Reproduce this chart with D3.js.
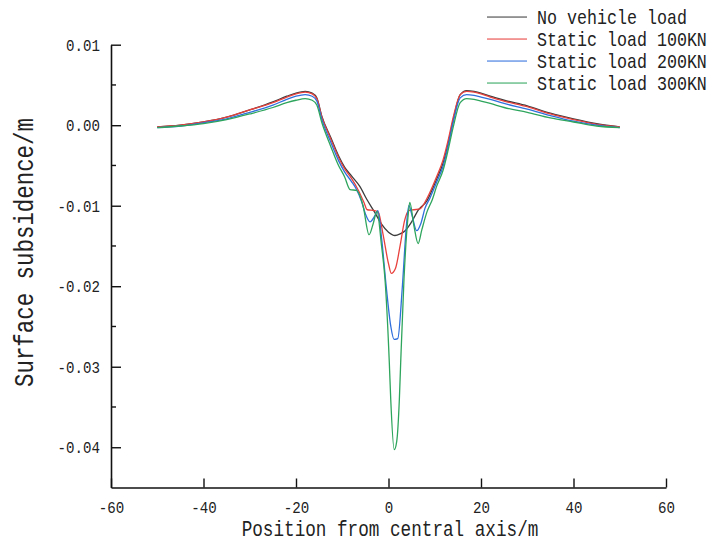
<!DOCTYPE html>
<html>
<head>
<meta charset="utf-8">
<script src="https://cdn.jsdelivr.net/npm/d3@7"></script>
<style>
  html, body { margin: 0; padding: 0; background: #fff; }
  svg { display: block; }
  text { font-family: "Liberation Mono", "DejaVu Sans Mono", monospace; fill: #222; }
</style>
</head>
<body>
<svg id="chart" width="711" height="544"></svg>
<script>
// Surface subsidence profiles across the tunnel axis
const seriesNames = ["No vehicle load", "Static load 100KN", "Static load 200KN", "Static load 300KN"];
const seriesColors = ["#3c3c3c", "#e8403c", "#2f6fdc", "#2ea55c"];

const xNoLoad = [-50,-45,-40,-35,-30,-25,-22,-20,-18,-16.5,-15.5,-14.4,-12.5,-10.8,-9.5,-8,-6.2,-4.7,-3,-1.5,0,1.4,2.5,3.6,5,6.5,8.3,10.4,11.8,13,14,15.5,16.9,18.5,20,22,25,30,35,40,45,50];
const yNoLoad = [-0.0002,0.0000,0.0004,0.0010,0.0019,0.0029,0.0036,0.0040,0.0042,0.0040,0.0034,0.0011,-0.0015,-0.0038,-0.0052,-0.0063,-0.0076,-0.0092,-0.0108,-0.0123,-0.0133,-0.0137,-0.0135,-0.0131,-0.0120,-0.0105,-0.0094,-0.0067,-0.0047,-0.0020,0.0007,0.0038,0.0043,0.0042,0.0040,0.0036,0.0031,0.0024,0.0015,0.0008,0.0002,-0.0002];

const xLoad100 = [-50,-45,-40,-35,-30,-25,-22,-20,-18,-16.5,-15.5,-14.4,-12.5,-10.8,-9.5,-8,-6.5,-5.3,-4.6,-3,-2.2,-1.2,0,0.6,1.5,2.5,3.5,4.4,5.5,6.8,8.3,10.4,11.8,13,14,15.5,16.9,18.5,20,22,25,30,35,40,45,50];
const yLoad100 = [-0.0002,0.0000,0.0004,0.0010,0.0019,0.0028,0.0035,0.0039,0.0041,0.0039,0.0033,0.0010,-0.0017,-0.0040,-0.0054,-0.0066,-0.0081,-0.0096,-0.0105,-0.0106,-0.0108,-0.0135,-0.0172,-0.0184,-0.0178,-0.0150,-0.0118,-0.0106,-0.0105,-0.0104,-0.0091,-0.0064,-0.0043,-0.0016,0.0010,0.0038,0.0042,0.0041,0.0039,0.0035,0.0030,0.0023,0.0014,0.0007,0.0001,-0.0002];

const xLoad200 = [-50,-45,-40,-35,-30,-25,-22,-20,-18,-16.5,-15.5,-14.4,-12.5,-10.8,-9.5,-8,-7,-5.8,-5,-4,-3,-2.3,-1.5,-0.5,0.5,1.2,2.0,3,3.8,4.4,5,6.1,7,7.9,9,10.4,11.8,13,14,15.5,16.9,18.5,20,22,25,30,35,40,45,50];
const yLoad200 = [-0.0003,-0.0001,0.0003,0.0008,0.0016,0.0025,0.0032,0.0036,0.0038,0.0036,0.0030,0.0007,-0.0021,-0.0044,-0.0058,-0.0070,-0.0079,-0.0095,-0.0110,-0.0120,-0.0113,-0.0106,-0.0140,-0.0200,-0.0250,-0.0266,-0.0265,-0.0200,-0.0130,-0.0100,-0.0110,-0.0131,-0.0122,-0.0103,-0.0090,-0.0071,-0.0051,-0.0023,0.0004,0.0034,0.0038,0.0037,0.0035,0.0032,0.0027,0.0020,0.0012,0.0005,0.0000,-0.0003];

const xLoad300 = [-50,-45,-40,-35,-30,-25,-22,-20,-18,-16.5,-15.5,-14.4,-12.5,-10.8,-9.5,-8.3,-6.9,-5.5,-4.2,-3.3,-2.5,-1.5,-0.76,0.17,0.48,1.25,1.77,2.35,2.64,3.35,4.2,4.6,5.5,6.4,7.2,8.3,9.5,10.4,11.8,13,14,15.5,16.9,18.5,20,22,25,30,35,40,45,50];
const yLoad300 = [-0.0003,-0.0001,0.0002,0.0007,0.0014,0.0022,0.0028,0.0031,0.0033,0.0031,0.0025,0.0003,-0.0026,-0.0050,-0.0064,-0.0080,-0.0081,-0.0100,-0.0136,-0.0122,-0.0107,-0.0150,-0.0191,-0.0294,-0.0340,-0.0403,-0.0393,-0.0340,-0.0294,-0.0191,-0.0115,-0.0096,-0.0125,-0.0147,-0.0130,-0.0108,-0.0092,-0.0076,-0.0056,-0.0028,-0.0002,0.0028,0.0033,0.0032,0.0030,0.0027,0.0022,0.0016,0.0009,0.0004,-0.0001,-0.0003];

const xTicks = [-60,-40,-20,0,20,40,60];
const yTicks = [0.01,0.00,-0.01,-0.02,-0.03,-0.04];
const yMinorTicks = [0.005,-0.005,-0.015,-0.025,-0.035];

const xLabel = "Position from central axis/m";
const yLabel = "Surface subsidence/m";

const xsAll = [xNoLoad, xLoad100, xLoad200, xLoad300];
const ysAll = [yNoLoad, yLoad100, yLoad200, yLoad300];
const series = seriesNames.map((name, i) => ({
  name, color: seriesColors[i],
  points: xsAll[i].map((x, j) => ({ x, y: ysAll[i][j] }))
}));

const svg = d3.select("#chart");
const x = d3.scaleLinear().domain([-60, 60]).range([111, 666]);
const y = d3.scaleLinear().domain([-0.045, 0.01]).range([487.5, 44.7]);

// Half-width glyphs: the 0.6em monospace advance is squeezed to 0.5em
// with a horizontal scale applied at the text's anchor point.
const SQUEEZE = 0.5 / 0.6;
function halfWidth(sel, fs, anchorTransform) {
  sel.attr("font-size", fs)
     .attr("x", 0).attr("y", 0)
     .attr("transform", function(d, i) {
       const base = typeof anchorTransform === "function" ? anchorTransform.call(this, d, i) : anchorTransform;
       return `${base} scale(${SQUEEZE},1)`;
     });
}

// x axis
const xAxis = svg.append("g").attr("transform", `translate(0,${y(-0.045)})`)
  .call(d3.axisBottom(x).tickValues(xTicks).tickSizeInner(-9).tickSizeOuter(0).tickFormat(d3.format("d")));
xAxis.select(".domain").attr("stroke", "#111").attr("stroke-width", 1.6);
xAxis.selectAll(".tick line").attr("stroke", "#111").attr("stroke-width", 1.4);
xAxis.selectAll(".tick text").attr("dy", "0.32em").attr("fill", "#222")
  .text(d => d < 0 ? "-" + Math.abs(d) : String(d))
  .call(halfWidth, 17, "translate(0,20)");

// y axis with minor ticks
const yAxis = svg.append("g").attr("transform", `translate(${x(-60)},0)`)
  .call(d3.axisLeft(y).tickValues(yTicks).tickSizeInner(-10).tickSizeOuter(0).tickFormat(d3.format(".2f")));
yAxis.select(".domain").attr("stroke", "#111").attr("stroke-width", 1.6);
yAxis.selectAll(".tick line").attr("stroke", "#111").attr("stroke-width", 1.4);
yAxis.selectAll(".tick text").attr("fill", "#222").attr("dy", "0.32em")
  .text(d => d3.format(".2f")(d).replace("−", "-"))
  .call(halfWidth, 17, "translate(-11,0)");
svg.append("g").selectAll("line").data(yMinorTicks).join("line")
  .attr("x1", x(-60)).attr("x2", x(-60) + 5)
  .attr("y1", d => y(d)).attr("y2", d => y(d))
  .attr("stroke", "#111").attr("stroke-width", 1.4);

// axis titles
svg.append("text").attr("text-anchor", "middle")
  .text(xLabel).call(halfWidth, 21.2, "translate(390,536)");
svg.append("text").attr("text-anchor", "middle")
  .text(yLabel).call(halfWidth, 26.9, "translate(33,252.5) rotate(-90)");

// profile lines
const line = d3.line().x(d => x(d.x)).y(d => y(d.y)).curve(d3.curveMonotoneX);
svg.append("g").selectAll("path").data(series).join("path")
  .attr("d", d => line(d.points))
  .attr("fill", "none")
  .attr("stroke", d => d.color)
  .attr("stroke-width", 1.3)
  .attr("stroke-linejoin", "round");

// legend
const legendG = svg.append("g").attr("class", "legend");
series.forEach((s, i) => {
  const row = legendG.append("g").attr("transform", `translate(487,${17 + i * 22})`);
  row.append("rect").attr("x", 0).attr("y", -0.6).attr("width", 40).attr("height", 1.3)
    .attr("fill", s.color).attr("fill-opacity", 0.8);
  row.append("text").attr("dy", "0.35em").text(s.name).call(halfWidth, 20, "translate(50,0)");
});
</script>
</body>
</html>
